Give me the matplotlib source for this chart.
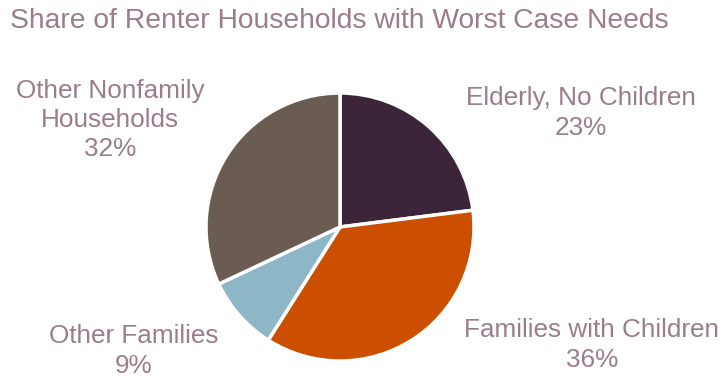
import matplotlib.pyplot as plt

plt.rcParams['font.family'] = ['Liberation Sans', 'DejaVu Sans']

categories = ['Elderly, No Children', 'Families with Children', 'Other Families',
              'Other Nonfamily\nHouseholds']
shares = [23, 36, 9, 32]
colors = ['#3D2539', '#CC4F00', '#8DB6C6', '#6A5C52']
textColor = '#9A7D8B'

fig = plt.figure(figsize=(7.28, 3.77), dpi=100)
ax = fig.add_axes([0, 0, 1, 1])

ax.pie(shares, colors=colors, startangle=90, counterclock=False,
       center=(340, 150), radius=134, frame=True,
       wedgeprops=dict(edgecolor='white', linewidth=2.5))
ax.set_xlim(0, 728)
ax.set_ylim(0, 377)
ax.set_aspect('auto')
ax.axis('off')

# label positions (center of the text block)
labelPos = [(581, 264), (592, 32), (134, 26), (110, 257)]
for nome, val, (x, y) in zip(categories, shares, labelPos):
    ax.text(x, y, f'{nome}\n{val}%', ha='center', va='center',
            fontsize=18.8, color=textColor, linespacing=1.28)

fig.text(10 / 728, 1 - 21 / 377, 'Share of Renter Households with Worst Case Needs',
         ha='left', va='center', fontsize=20.3, color=textColor)

plt.savefig('out.png', dpi=100)
plt.close()
